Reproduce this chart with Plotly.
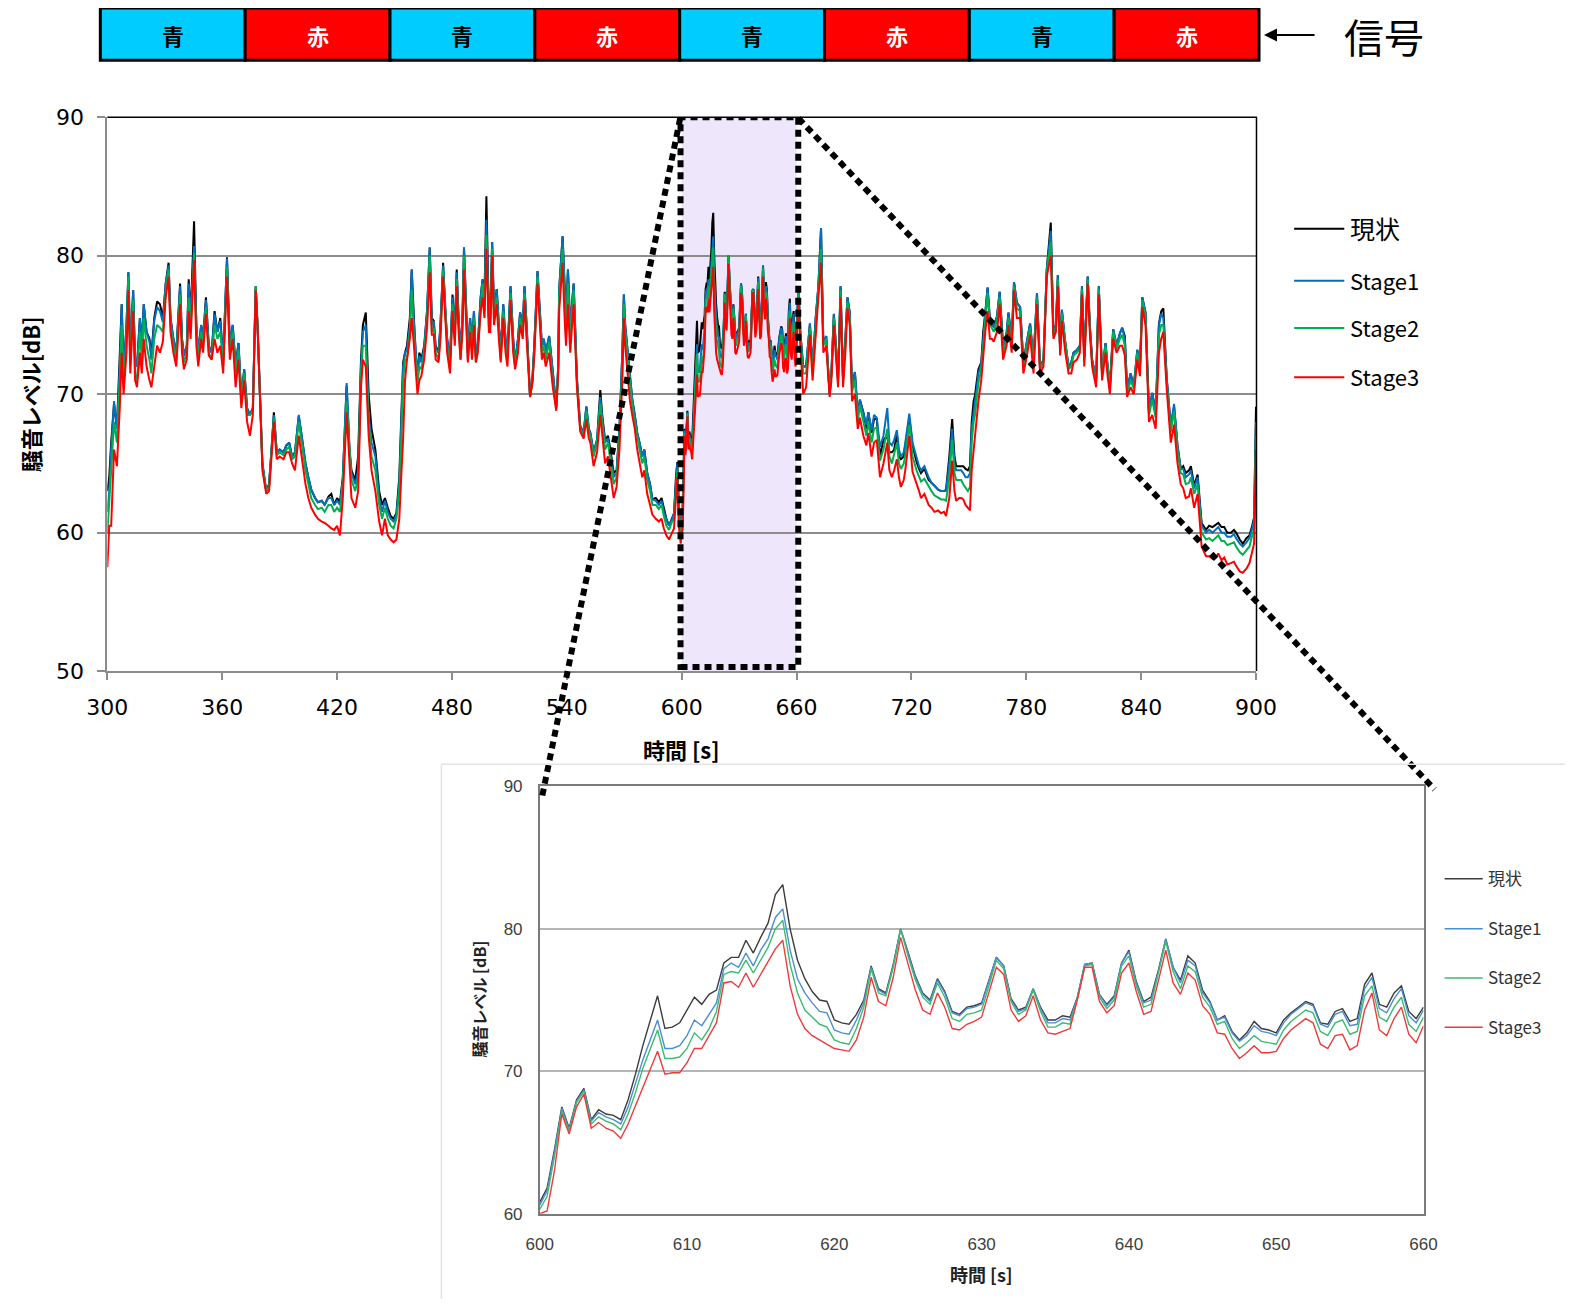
import plotly.graph_objects as go

# ---------------- data ----------------
time_s = [
    300,301,302,303.5,305,306.5,307.5,308.5,310,311,312,313.5,314.5,315.5,317,318,319,320.5,322,323,
    324.5,326,327.5,329,330.5,332,333,334.5,336,337,338,339,340,341.5,342.5,343.5,345.3,346.5,347.5,349,
    350,351.5,353,354.5,356,357.5,359,360.5,362.5,364,365.5,367,368.5,370,371.5,373,374.5,376,377.5,378.5,380,
    381,383,384.5,386,387,388.5,390,392,393.5,395,396.5,398,400,401.5,403.5,405,406.5,408.5,410,412,
    413.5,415.5,417,418.5,420,421.5,423,425,426.5,427.5,429.5,431,432.5,433.5,435,436.5,438,440,442,443.5,
    445,446.5,448,449.5,451,
    452.5,453.5,454.5,455.5,456.5,458,459,460,461,462,463,464,465.5,467,468.4,469.5,470.5,471.5,473,474,
    475.4,476.5,477.5,479,480.3,481.5,482.5,483.5,484.5,485.5,486.3,487.5,488.3,489.5,490.5,491.5,492.5,493.5,495,496,
    497,498,499.3,500,501,502,503.4,504.5,505.5,506.8,508,509,510.6,512,513,514.5,515.6,517,517.9,519,
    520.8,522,523,524.7,526,527,528,529,530.8,532,532.7,534.5,535.5,536,537.8,539,539.6,540.6,541.8,543,
    543.6,545.3,
    547,548.8,550.2,551.5,552.3,554,555.8,557.5,558.5,560,561.5,563,564.5,566,567.5,569,569.8,570.5,571.5,573,
    574.2,575.5,576.8,578,579.4,580.5,582,583.5,584.7,586.5,588.1,589.5,590.7,592,593.4,595,596,597,597.7,598.5,
    599.5,
    600,600.5,601,601.5,602,602.5,603,603.5,604,604.5,605,605.5,606,606.5,607,607.5,608,608.5,609,609.5,
    610,610.5,611,611.5,612,612.5,613,613.5,614,614.5,615,615.5,616,616.5,617,617.5,618,618.5,619,619.5,
    620,620.5,621,621.5,622,622.5,623,623.5,624,624.5,625,625.5,626,626.5,627,627.5,628,628.5,629,629.5,
    630,630.5,631,631.5,632,632.5,633,633.5,634,634.5,635,635.5,636,636.5,637,637.5,638,638.5,639,639.5,
    640,640.5,641,641.5,642,642.5,643,643.5,644,644.5,645,645.5,646,646.5,647,647.5,648,648.5,649,649.5,
    650,650.5,651,651.5,652,652.5,653,653.5,654,654.5,655,655.5,656,656.5,657,657.5,658,658.5,659,659.5,
    660,
    661,662,663.5,665,667,668.4,670,671.4,672.8,674,675.5,677.3,678.2,679.5,681.7,683,684.3,685.5,686.6,687.8,
    689,690.5,692,693.1,694.9,696.5,697.5,699.2,700.5,701.9,703.6,705.4,707.4,708.5,709.8,711,712.4,713.5,714.5,716,
    716.8,718.9,720.6,722.7,724,725,726.8,729,730.5,732,734,735.5,737,738.1,739.8,741.3,742.5,743.4,745,746,
    747.1,748.3,749.5,750.6,
    751.5,752.5,753.2,754.2,755,756.5,757.5,758.6,759.8,761,762,763,764.7,766.1,767.9,769.7,770.7,772.4,773.6,775.1,
    776.8,778.5,780.4,782,783.8,785.6,787.2,789,790.7,792.8,794.2,795.5,796.5,797.7,798.6,800.4,802.1,803.5,804.7,806.5,
    808,809.1,810.3,812.1,813.2,814.4,816.5,817.9,819.6,821.4,822.5,823.7,825.4,827.2,828.9,830.1,831.5,832.7,834.5,836.2,
    838,839.4,840.6,842.3,844.1,845.8,847.6,849.3,850.5,851.6,853.4,855.5,857.2,859,860.7,862,863.3,865,866,867.7,
    869.5,871.6,873.9,875.5,877.3,879,880.3,882,883.4,885,886.9,888.5,889.6,891.5,893.1,895,896.6,898,899,900,
]

genjo = [
    63.0,64.0,66.5,69.3,67.5,72.5,76.5,71.5,75.0,78.8,73.0,77.5,72.5,72.0,75.5,73.5,76.5,74.5,74.0,72.8,
    75.5,76.7,76.5,75.5,78.0,79.5,75.5,74.0,73.0,75.5,78.0,74.0,72.8,73.5,78.3,75.5,82.5,75.0,73.0,75.0,
    74.0,77.0,73.5,73.0,76.0,74.5,75.5,72.5,79.9,73.5,75.0,72.0,73.7,69.8,71.8,69.0,68.5,69.0,77.8,74.8,68.5,
    65.0,63.0,63.5,66.5,68.7,65.8,66.0,65.8,66.3,66.5,65.5,65.8,68.4,67.0,65.0,64.0,63.1,62.5,62.2,62.3,
    62.0,62.6,62.8,62.0,62.5,62.2,64.0,70.6,66.0,64.5,63.8,65.5,72.5,75.0,75.9,70.0,67.5,66.0,63.0,62.0,
    62.5,61.8,61.2,61.0,61.4,
    64.0,67.5,72.3,73.0,73.5,75.5,79.0,75.9,73.0,71.5,73.0,72.5,73.5,76.0,80.6,75.5,75.3,73.5,73.0,75.0,
    79.5,76.0,74.0,72.5,77.2,74.5,79.0,75.5,73.0,75.5,80.6,76.0,73.0,75.5,73.5,76.0,72.7,73.5,77.0,78.3,
    77.0,84.3,75.6,75.5,81.0,76.0,77.6,75.0,73.0,76.5,74.0,73.0,77.8,74.0,72.3,74.0,75.9,75.0,77.8,75.0,
    69.9,71.0,73.5,78.9,76.0,73.5,74.0,73.0,74.2,72.5,71.1,69.1,72.0,77.5,81.4,77.0,75.4,79.0,74.7,77.0,
    78.0,71.1,
    67.7,67.2,69.1,67.5,67.2,65.8,66.7,70.3,68.5,66.7,67.0,65.8,64.3,64.5,67.5,73.0,77.2,75.0,73.5,71.0,
    69.6,68.5,67.2,66.5,65.5,66.0,64.3,63.5,62.4,62.5,62.2,62.5,61.7,61.0,60.5,61.0,61.4,64.0,65.1,62.0,
    60.2,
    60.8,61.8,64.5,67.5,66.0,68.0,68.8,66.6,67.3,67.0,66.9,66.6,68.0,69.8,71.8,73.5,75.3,73.0,73.1,73.4,
    74.3,75.2,74.7,75.4,75.7,77.6,78.0,78.0,79.2,78.3,79.4,80.4,82.4,83.1,80.0,77.8,76.5,75.6,75.0,74.9,
    73.6,73.4,73.3,74.0,75.0,77.4,75.8,75.5,77.5,80.0,78.4,76.7,75.5,75.0,76.5,75.6,74.2,74.0,74.5,74.6,
    74.8,76.4,78.0,77.4,75.1,74.3,74.5,75.8,74.5,73.6,73.6,73.9,73.8,75.2,77.5,77.6,75.4,74.7,75.3,77.6,
    78.5,76.3,74.9,75.2,77.1,79.3,77.3,76.4,78.1,77.6,75.7,74.9,73.6,73.9,72.8,72.2,72.7,73.5,73.0,72.9,
    72.7,73.6,74.1,74.5,74.9,74.7,73.4,73.3,74.2,74.4,73.5,73.7,76.1,76.9,74.7,74.5,75.5,76.0,74.2,73.7,
    74.5,
    77.8,74.4,72.0,72.0,75.1,71.8,75.5,77.8,82.0,73.7,74.2,70.0,71.5,75.8,71.1,77.8,71.1,74.0,77.0,75.9,
    70.5,71.6,68.5,69.6,68.7,67.5,68.7,67.2,68.2,68.2,65.5,66.7,67.0,65.8,65.8,66.0,67.2,65.5,65.3,65.5,
    66.3,68.3,66.3,65.1,64.6,64.3,64.6,63.8,63.6,63.4,63.1,63.0,63.0,63.1,65.5,68.2,65.5,64.8,64.8,64.8,
    64.8,64.6,64.5,64.8,
    68.0,69.5,69.9,71.0,71.8,72.3,74.5,75.9,77.7,75.4,75.0,74.9,75.6,77.4,73.5,74.4,75.9,73.9,78.1,76.6,
    76.3,72.3,73.9,75.1,72.5,77.3,72.0,72.5,79.0,82.4,74.4,75.0,78.6,73.2,76.1,73.7,72.0,72.3,73.0,73.2,
    73.5,77.8,72.7,78.5,75.0,72.5,71.1,77.8,71.5,73.7,72.0,70.6,74.7,73.5,74.4,74.8,74.2,70.3,71.5,70.6,
    73.2,72.0,77.0,75.9,68.7,70.1,68.7,75.1,76.0,76.2,71.1,67.7,69.1,66.3,64.6,64.8,64.3,64.5,64.8,63.4,
    64.2,60.7,60.2,60.5,60.4,60.6,60.7,60.4,60.4,60.0,60.0,60.2,60.0,59.5,59.2,59.6,59.8,60.5,61.1,69.1,
]

stage1 = [
    61.5,63.0,66.0,69.5,67.5,72.0,76.5,71.5,75.0,78.8,73.0,77.5,72.5,72.0,75.5,73.5,76.5,74.5,73.8,72.5,
    75.3,76.3,76.0,75.2,78.0,79.3,75.5,74.0,73.0,75.5,77.8,74.0,72.8,73.5,78.0,75.5,80.7,75.0,73.0,75.0,
    74.0,76.8,73.5,73.0,75.8,74.5,75.3,72.5,79.8,73.5,75.0,72.0,73.7,69.8,71.8,69.0,68.5,69.0,77.8,74.8,68.5,
    65.0,63.0,63.5,66.5,68.5,65.8,66.0,65.8,66.3,66.5,65.5,65.8,68.5,67.0,65.0,64.0,63.1,62.5,62.2,62.3,
    62.0,62.5,62.5,62.0,62.3,62.0,63.8,70.8,66.0,64.3,63.5,64.5,72.0,74.5,75.0,68.5,66.5,65.5,62.5,61.5,
    62.3,61.5,61.0,60.8,61.3,
    63.5,67.5,72.0,73.0,73.2,75.0,79.0,75.5,73.0,71.3,72.8,72.3,73.3,76.0,80.6,75.0,75.3,73.3,73.0,75.0,
    79.3,76.0,74.0,72.5,77.0,74.5,78.8,75.3,73.0,75.5,80.6,76.0,73.0,75.5,73.5,76.0,72.7,73.5,77.0,78.3,
    76.5,82.6,75.5,75.5,81.0,76.0,77.6,75.0,73.0,76.5,74.0,73.0,77.8,74.0,72.3,74.0,75.9,75.0,77.8,75.0,
    69.9,71.0,73.5,78.9,76.0,73.5,74.0,73.0,74.2,72.5,71.1,69.1,72.0,77.5,81.4,77.0,75.4,79.0,74.7,77.0,
    78.0,71.1,
    67.7,67.2,69.1,67.5,67.2,65.8,66.7,69.8,68.2,66.5,66.8,65.5,64.0,64.3,67.5,73.0,77.2,75.0,73.5,71.0,
    69.6,68.5,67.2,66.5,65.5,66.0,64.3,63.5,62.4,62.3,62.0,62.3,61.5,61.0,60.5,61.0,61.4,63.5,65.0,62.0,
    60.2,
    60.6,61.6,64.3,67.4,65.9,67.9,68.7,66.5,67.1,66.8,66.6,66.3,67.5,69.2,70.8,72.2,73.6,71.6,71.6,71.8,
    72.5,73.6,73.2,74.0,74.8,77.2,77.6,77.3,78.3,77.4,78.5,79.3,80.8,81.4,78.5,76.5,75.5,74.8,74.2,74.1,
    72.9,72.7,72.6,73.6,74.8,77.3,75.7,75.4,77.4,80.0,78.3,76.6,75.4,74.9,76.4,75.5,74.1,73.9,74.4,74.5,
    74.7,76.3,78.0,77.4,75.0,74.2,74.4,75.8,74.4,73.4,73.4,73.7,73.6,75.2,77.5,77.6,75.4,74.6,75.2,77.6,
    78.4,76.2,74.8,75.0,77.0,79.3,77.3,76.2,77.8,77.4,75.5,74.8,73.6,73.8,72.7,72.1,72.5,73.2,72.8,72.7,
    72.5,73.4,74.0,74.4,74.8,74.6,73.3,73.1,74.0,74.2,73.2,73.3,75.8,76.6,74.4,74.1,75.1,75.8,73.9,73.4,
    74.3,
    77.8,74.4,72.0,72.0,75.1,71.8,75.5,77.8,82.0,73.7,74.2,70.0,71.5,75.8,71.1,77.8,71.1,74.0,77.0,75.9,
    70.5,71.6,68.5,69.6,68.7,67.8,68.7,67.4,68.5,68.3,66.2,67.0,69.0,66.5,66.3,66.7,67.4,66.0,65.5,65.8,
    66.5,68.6,66.5,65.4,64.8,64.5,64.8,64.0,63.6,63.4,63.1,63.0,63.0,63.0,65.0,67.5,65.0,64.5,64.5,64.5,
    64.3,64.0,64.0,64.3,
    67.5,68.8,69.5,70.5,71.5,72.2,74.3,75.8,77.7,75.4,75.0,74.9,75.6,77.4,73.5,74.4,75.9,73.9,78.1,76.6,
    76.3,72.3,73.9,75.1,72.5,77.3,72.0,72.5,79.0,81.8,74.4,75.0,78.6,73.2,76.1,73.7,72.0,72.3,73.0,73.2,
    73.5,77.8,72.7,78.5,75.0,72.5,71.1,77.8,71.5,73.7,72.0,70.6,74.7,73.5,74.4,74.8,74.0,70.3,71.5,70.6,
    73.2,72.0,77.0,75.9,68.7,70.1,68.7,75.0,75.8,75.5,71.1,67.7,69.3,66.3,64.6,64.6,64.0,64.2,64.5,63.2,
    64.0,60.5,60.0,60.2,60.0,60.2,60.4,60.0,60.0,59.7,59.7,59.9,59.6,59.2,59.0,59.3,59.6,60.3,60.9,68.0,
]

stage2 = [
    60.0,62.0,64.5,68.0,66.5,71.0,75.0,70.5,74.0,78.5,72.0,76.8,71.5,71.0,74.5,72.5,75.5,73.5,72.5,71.5,
    74.0,75.0,74.8,74.5,77.5,79.0,75.0,73.5,72.5,75.0,77.2,73.5,72.3,73.0,77.0,74.5,80.2,74.5,72.5,74.5,
    73.5,76.3,73.0,72.5,75.0,74.0,74.5,72.0,79.2,73.0,74.5,71.5,73.2,69.5,71.5,68.5,68.5,68.8,77.8,74.8,68.3,
    64.8,63.0,63.3,66.3,68.3,65.6,65.8,65.6,66.0,66.2,65.3,65.5,68.0,66.5,64.5,63.5,62.5,62.0,61.7,61.8,
    61.5,62.0,62.0,61.5,61.8,61.5,63.5,69.5,65.5,63.8,63.0,64.0,71.5,73.5,73.5,68.0,65.5,64.5,62.0,61.0,
    61.8,61.0,60.5,60.3,61.0,
    63.0,66.5,71.0,72.5,72.5,74.5,77.5,74.5,72.5,70.8,72.0,71.8,73.0,75.5,80.0,74.5,74.8,73.0,72.5,74.5,
    79.0,75.5,73.5,72.0,76.5,74.0,78.3,75.0,72.5,75.0,80.0,75.5,72.5,75.0,73.0,75.5,72.3,73.2,76.5,78.0,
    76.0,81.5,75.0,75.0,80.5,75.5,77.0,74.5,72.5,76.0,73.5,72.5,77.3,73.5,72.0,73.5,75.5,74.5,77.3,74.5,
    69.8,70.8,73.0,78.5,75.5,73.0,73.5,72.5,73.8,72.0,70.8,69.0,71.8,77.0,80.5,76.0,74.5,78.0,74.0,76.5,
    77.5,70.8,
    67.5,67.0,68.8,67.2,67.0,65.5,66.5,69.3,67.8,66.0,66.5,65.0,63.5,64.0,67.0,72.0,76.5,74.5,73.0,70.5,
    69.2,68.0,66.8,66.0,65.0,65.5,63.8,63.0,62.0,62.0,61.7,62.0,61.2,60.5,60.2,60.8,61.0,63.0,64.5,61.5,
    60.0,
    60.3,61.2,64.0,67.2,65.8,67.8,68.6,66.3,66.8,66.5,66.3,65.9,67.0,68.5,70.2,71.5,72.9,70.9,70.9,71.0,
    71.6,72.7,72.2,73.0,74.2,76.8,77.0,76.9,77.8,76.9,77.8,78.7,80.0,80.6,77.5,75.5,74.3,73.8,73.3,73.1,
    72.2,72.0,71.9,73.0,74.5,77.2,75.5,75.3,77.3,80.0,78.1,76.4,75.2,74.7,76.2,75.2,73.7,73.5,74.0,74.1,
    74.3,76.0,77.8,77.2,74.9,74.0,74.3,75.7,74.2,73.1,73.1,73.4,73.3,75.1,77.4,77.5,75.2,74.4,75.0,77.4,
    78.1,76.0,74.5,74.7,76.8,79.1,77.0,75.8,77.4,77.0,75.2,74.5,73.3,73.5,72.3,71.6,72.0,72.5,72.1,72.0,
    71.9,72.9,73.5,73.9,74.3,74.1,72.8,72.5,73.4,73.6,72.6,72.8,75.3,76.0,73.8,73.5,74.5,75.2,73.3,72.8,
    73.8,
    77.5,74.0,71.5,71.5,74.8,71.5,75.0,77.5,80.5,73.5,74.0,70.0,71.3,75.5,70.8,77.5,70.8,73.5,76.7,75.5,
    70.2,71.0,68.0,69.2,68.0,67.0,68.0,66.5,67.5,67.6,65.2,66.0,67.5,65.5,65.0,65.7,66.5,65.0,64.6,65.0,
    65.6,67.8,65.5,64.5,64.0,63.7,63.9,63.3,63.0,62.7,62.5,62.4,62.4,62.3,64.0,66.7,64.3,63.8,63.8,63.8,
    63.5,63.2,63.0,63.3,
    66.5,68.0,68.5,69.8,70.8,71.8,73.8,75.3,77.3,75.0,74.8,74.5,75.3,77.0,73.0,74.0,75.5,73.5,77.8,76.2,
    76.0,72.0,73.5,74.8,72.2,77.0,71.8,72.3,78.8,81.0,74.2,74.8,78.3,73.0,75.8,73.5,71.8,72.0,72.8,73.0,
    73.3,77.6,72.5,78.3,74.8,72.3,70.9,77.6,71.3,73.5,71.8,70.4,74.5,73.3,74.0,74.3,73.5,70.0,71.0,70.4,
    73.0,71.8,76.8,75.6,68.5,69.6,68.3,74.3,75.0,75.0,70.8,67.3,68.8,65.9,64.3,64.2,63.5,63.6,64.0,62.8,
    63.5,60.0,59.5,59.6,59.4,59.6,59.8,59.4,59.4,59.1,59.2,59.3,59.0,58.6,58.4,58.7,59.0,59.8,60.3,67.0,
]

stage3 = [
    57.5,60.5,60.5,66.0,64.8,69.0,73.0,70.0,73.0,77.5,71.5,76.0,71.0,70.5,73.0,71.5,74.0,72.0,71.0,70.5,
    72.0,73.5,73.0,73.8,77.0,78.5,74.5,73.0,72.0,74.0,76.5,73.0,71.8,72.5,76.0,74.0,79.7,73.5,72.0,74.0,
    73.0,75.8,72.8,72.5,74.0,73.0,73.5,71.5,78.5,72.5,74.0,70.5,72.5,69.0,71.0,68.0,67.0,68.5,77.5,74.8,68.0,
    64.5,62.8,63.0,66.0,68.0,65.3,65.5,65.3,65.8,65.8,65.0,64.5,67.0,65.5,63.5,62.5,61.8,61.3,61.0,60.8,
    60.7,60.5,60.3,60.2,60.5,59.8,62.5,68.7,64.5,62.5,61.8,63.0,70.5,72.5,72.0,67.0,64.5,63.0,60.8,59.8,
    61.0,59.8,59.5,59.3,59.5,
    61.0,64.0,66.8,71.0,72.5,74.0,75.5,73.8,71.5,70.0,71.0,71.3,72.5,74.8,78.8,74.3,74.3,72.5,72.3,74.0,
    78.5,75.0,73.0,71.5,76.0,73.5,77.8,74.5,72.5,74.5,79.0,75.0,72.3,74.5,72.5,75.0,72.3,73.0,76.0,77.0,
    75.5,80.5,74.5,74.5,80.0,75.0,76.5,74.0,72.3,75.5,73.0,72.0,76.8,73.0,71.8,73.0,75.0,74.0,76.8,74.0,
    69.8,70.8,72.8,78.0,75.0,72.5,73.0,72.0,73.0,71.5,70.5,68.8,71.5,76.0,79.5,75.0,73.5,76.5,73.0,75.5,
    76.5,70.5,
    67.3,66.8,68.2,66.8,66.5,64.8,65.8,68.5,67.0,65.0,65.5,64.0,62.5,63.3,66.0,71.0,75.5,73.5,72.0,69.5,
    68.5,67.5,66.0,65.0,64.0,64.5,62.8,62.0,61.3,61.0,60.8,61.0,60.3,59.8,59.5,60.0,60.3,62.5,64.0,60.5,
    59.2,
    60.0,60.2,63.0,67.0,65.6,67.5,68.4,66.0,66.4,66.0,65.8,65.3,66.3,67.6,68.9,70.2,71.4,69.8,69.9,69.9,
    70.6,71.6,71.6,72.5,73.4,76.2,76.3,75.9,76.9,75.9,76.8,77.6,78.6,79.2,76.0,74.0,73.0,72.5,72.2,71.9,
    71.6,71.5,71.4,72.2,73.8,76.6,74.9,74.6,76.6,79.4,77.5,75.7,74.3,74.0,75.5,74.5,73.0,72.9,73.3,73.5,
    73.8,75.5,77.3,76.8,74.3,73.5,73.9,75.3,73.6,72.7,72.6,72.8,73.0,75.0,77.3,77.3,74.9,74.1,74.6,76.9,
    77.6,75.6,74.0,74.2,76.3,78.5,76.2,75.4,76.9,76.4,74.6,74.0,72.7,72.6,71.6,70.9,71.3,71.8,71.3,71.3,
    71.4,72.3,72.9,73.3,73.7,73.4,71.9,71.6,72.5,72.6,71.5,71.8,74.3,75.5,72.9,72.5,73.7,74.5,72.6,72.0,
    73.2,
    77.0,73.5,70.0,70.5,74.3,71.0,74.5,77.0,79.5,73.0,73.5,69.8,71.0,75.0,70.5,77.0,70.5,73.0,76.2,75.0,
    69.5,70.0,67.5,68.3,67.0,66.3,67.2,65.5,66.5,66.7,64.0,65.0,66.5,64.5,64.0,64.5,65.3,64.0,63.3,63.8,
    64.5,67.0,64.4,63.6,63.0,62.5,62.8,62.0,61.8,61.5,61.6,61.4,61.5,61.2,62.5,65.2,63.0,62.3,62.5,62.5,
    62.4,62.0,61.8,61.6,
    64.5,66.0,66.8,68.0,69.5,71.0,73.0,74.5,76.0,74.0,74.0,73.8,74.5,76.5,72.5,73.5,75.0,73.0,77.5,75.5,
    75.5,71.5,72.8,74.3,71.5,76.5,71.5,72.0,78.5,80.0,74.0,74.5,77.8,72.8,75.3,73.0,71.5,71.5,72.3,72.5,
    73.0,77.2,72.0,78.0,74.5,72.0,70.5,77.2,71.0,73.0,71.3,70.0,74.0,73.0,73.5,73.5,72.8,69.8,70.5,70.0,
    72.5,71.3,76.3,75.0,68.0,68.5,67.5,73.0,74.0,74.5,70.3,66.5,67.8,65.0,63.5,63.2,62.5,62.6,63.2,61.8,
    62.8,59.0,58.3,58.3,58.1,58.2,58.5,58.0,58.2,57.7,57.8,57.9,57.6,57.2,57.1,57.4,57.8,58.5,59.2,66.0,
]

series_names = ["現状", "Stage1", "Stage2", "Stage3"]
main_colors = ["#000000", "#0070c0", "#00b050", "#ff0000"]
inset_colors = ["#3c3c3c", "#4a8fd4", "#3dbb72", "#ee3a3a"]

x_ticks_main = [300, 360, 420, 480, 540, 600, 660, 720, 780, 840, 900]
y_ticks_main = [50, 60, 70, 80, 90]
x_ticks_inset = [600, 610, 620, 630, 640, 650, 660]
y_ticks_inset = [60, 70, 80, 90]

signal_labels = ["青", "赤", "青", "赤", "青", "赤", "青", "赤"]
signal_fill = {"青": "#00ccff", "赤": "#ff0000"}
signal_text_color = {"青": "#000000", "赤": "#ffffff"}

zoom_start, zoom_end = 600, 660

n = len(time_s)
assert all(len(s) == n for s in (genjo, stage1, stage2, stage3)), [len(s) for s in (time_s, genjo, stage1, stage2, stage3)]

# ---------------- figure ----------------
# page body has an 8px margin; the figure fills the rest of the 1573x1307 window.
# Layout positions below were measured on a 1568x1303 preview and are rescaled to full size.
OFF = 8
W, H = 1573 - 2 * OFF, 1307 - 2 * OFF
SX, SY = 1573 / 1568, 1307 / 1303
def px(x):
    return (x * SX - OFF) / W
def py(y):
    return 1 - (y * SY - OFF) / H

fig = go.Figure()
all_series = [genjo, stage1, stage2, stage3]

for name, vals, col in zip(series_names, all_series, main_colors):
    fig.add_trace(go.Scatter(x=time_s, y=vals, mode="lines", name=name,
                             line=dict(color=col, width=2), xaxis="x", yaxis="y",
                             showlegend=False, hoverinfo="skip"))

idx = [i for i, t in enumerate(time_s) if zoom_start <= t <= zoom_end]
for name, vals, col in zip(series_names, all_series, inset_colors):
    fig.add_trace(go.Scatter(x=[time_s[i] for i in idx], y=[vals[i] for i in idx], mode="lines",
                             name=name, line=dict(color=col, width=1.4), xaxis="x2", yaxis="y2",
                             showlegend=False, hoverinfo="skip"))

main_font = dict(family="DejaVu Sans", size=22, color="#000000")
inset_font = dict(family="Liberation Sans", size=17, color="#404040")

fig.update_layout(
    width=W, height=H, autosize=False,
    margin=dict(l=0, r=0, t=0, b=0, pad=0, autoexpand=False),
    paper_bgcolor="white", plot_bgcolor="white",
    xaxis=dict(domain=[px(107), px(1252)], range=[300, 900], tickvals=x_ticks_main,
               showgrid=False, zeroline=False, showline=True, linecolor="#8c8c8c", linewidth=2,
               ticks="outside", ticklen=7, tickwidth=2, tickcolor="#8c8c8c", automargin=False,
               tickfont=main_font, anchor="y", ticklabelstandoff=9),
    yaxis=dict(domain=[py(669), py(117)], range=[50, 90], tickvals=y_ticks_main,
               showgrid=True, gridcolor="#8c8c8c", gridwidth=2, zeroline=False,
               showline=True, linecolor="#8c8c8c", linewidth=2, automargin=False,
               ticks="outside", ticklen=8, tickwidth=2, tickcolor="#8c8c8c",
               tickfont=main_font, anchor="x", ticklabelstandoff=9),
    xaxis2=dict(domain=[px(538), px(1419)], range=[600, 660], tickvals=x_ticks_inset,
                showgrid=False, zeroline=False, showline=True, mirror=True, automargin=False,
                linecolor="#7a7a7a", linewidth=1.5, ticks="", tickfont=inset_font,
                anchor="y2", ticklabelstandoff=14),
    yaxis2=dict(domain=[py(1210), py(784)], range=[60, 90], tickvals=y_ticks_inset,
                showgrid=True, gridcolor="#b4b4b4", gridwidth=1.5, zeroline=False, automargin=False,
                showline=True, mirror=True, linecolor="#7a7a7a", linewidth=1.5,
                ticks="", tickfont=inset_font, anchor="x2", ticklabelstandoff=12),
)

shapes = []
annotations = []

def text_at(x, y, text, font, xanchor="center", yanchor="middle", **kw):
    d = dict(x=px(x), y=py(y), xref="paper", yref="paper", text=text, showarrow=False,
             xanchor=xanchor, yanchor=yanchor, font=font)
    d.update(kw)
    annotations.append(d)

# zoom region highlight and dotted frame
shapes.append(dict(type="rect", xref="x", yref="y", x0=zoom_start, x1=zoom_end, y0=50, y1=90,
                   fillcolor="#eee7fc", line=dict(width=0), layer="below"))
shapes.append(dict(type="rect", xref="x", yref="y", x0=zoom_start - 0.6, x1=zoom_end + 0.9, y0=50.3, y1=90,
                   line=dict(color="black", width=6, dash="7px,5px"), fillcolor="rgba(0,0,0,0)"))
# main frame top/right
shapes.append(dict(type="line", xref="paper", yref="paper", x0=px(107), x1=px(1253), y0=py(117), y1=py(117),
                   line=dict(color="black", width=1.5)))
shapes.append(dict(type="line", xref="paper", yref="paper", x0=px(1252.5), x1=px(1252.5), y0=py(117), y1=py(669),
                   line=dict(color="black", width=1.5)))
# diagonal connector lines
shapes.append(dict(type="line", xref="paper", yref="paper", x0=px(678), y0=py(118), x1=px(540), y1=py(796),
                   line=dict(color="black", width=6, dash="7px,5px")))
shapes.append(dict(type="line", xref="paper", yref="paper", x0=px(796), y0=py(118), x1=px(1430), y1=py(787),
                   line=dict(color="black", width=6, dash="7px,5px")))
# inset outer frame
shapes.append(dict(type="line", xref="paper", yref="paper", x0=px(440), x1=px(440), y0=py(762), y1=0,
                   line=dict(color="#e4e4e4", width=1.5)))
shapes.append(dict(type="line", xref="paper", yref="paper", x0=px(440), x1=1, y0=py(762), y1=py(762),
                   line=dict(color="#e4e4e4", width=1.5)))

# signal bar
bar_x0, bar_x1, bar_y0, bar_y1 = 100, 1255, 8, 60
seg_w = (bar_x1 - bar_x0) / len(signal_labels)
for i, lab in enumerate(signal_labels):
    x0 = bar_x0 + i * seg_w
    x1 = x0 + seg_w
    shapes.append(dict(type="rect", xref="paper", yref="paper", x0=px(x0), x1=px(x1), y0=py(bar_y1), y1=py(bar_y0),
                       fillcolor=signal_fill[lab], line=dict(color="black", width=3)))
    text_at((x0 + x1) / 2, 35, "<b>" + lab + "</b>",
            dict(family="Noto Sans CJK JP", size=22, color=signal_text_color[lab]))
annotations.append(dict(x=px(1260), y=py(35), xref="paper", yref="paper", text="", showarrow=True,
                        ax=52, ay=0, arrowhead=2, arrowsize=1.3, arrowwidth=2, arrowcolor="black"))
text_at(1338, 36, "信号", dict(family="Noto Sans CJK JP", size=40, color="black"), xanchor="left")

# axis titles
text_at(679, 747, "<b>時間 [s]</b>", dict(family="Noto Sans CJK JP", size=22, color="black"))
text_at(30, 393, "<b>騒音レベル[dB]</b>", dict(family="Noto Sans CJK JP", size=22, color="black"), textangle=-90)
text_at(978, 1270, "<b>時間 [s]</b>", dict(family="Noto Sans CJK JP", size=18, color="#222222"))
text_at(478, 996, "<b>騒音レベル [dB]</b>", dict(family="Noto Sans CJK JP", size=16, color="#222222"), textangle=-90)

# main legend
main_leg_y = [228, 280, 327, 376]
for name, col, yy in zip(series_names, main_colors, main_leg_y):
    shapes.append(dict(type="line", xref="paper", yref="paper", x0=px(1290), x1=px(1340), y0=py(yy), y1=py(yy),
                       line=dict(color=col, width=2)))
    text_at(1344, yy - 1, name, dict(family="Noto Sans CJK JP", size=25 if name == "現状" else 22, color="black"),
            xanchor="left")

# inset legend
inset_leg_y = [876, 926, 975, 1024]
for name, col, yy in zip(series_names, inset_colors, inset_leg_y):
    shapes.append(dict(type="line", xref="paper", yref="paper", x0=px(1440), x1=px(1478), y0=py(yy), y1=py(yy),
                       line=dict(color=col, width=1.5)))
    text_at(1481, yy - 1, name, dict(family="Noto Sans CJK JP", size=17, color="#333333"), xanchor="left")

fig.update_layout(shapes=shapes, annotations=annotations)
fig.write_html("out.html")
